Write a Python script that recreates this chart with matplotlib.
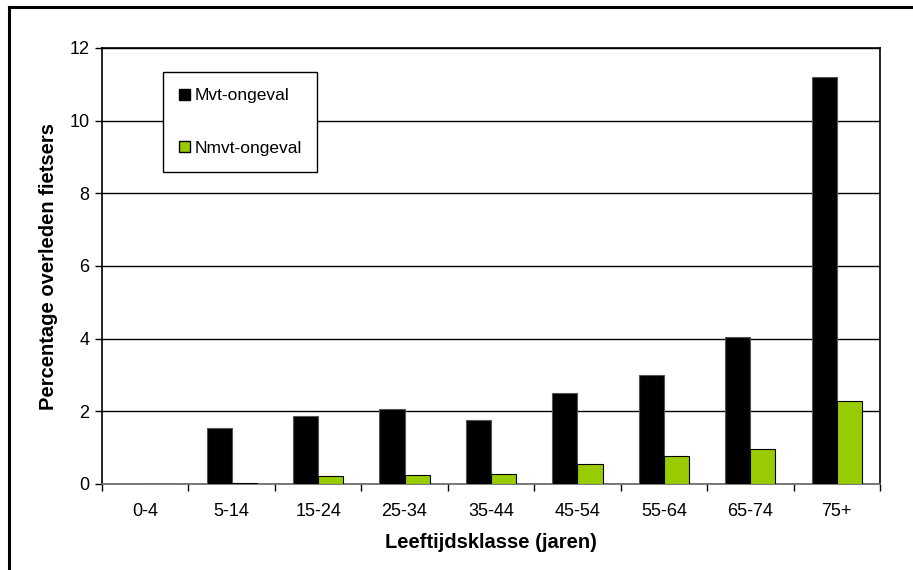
import matplotlib
matplotlib.use("Agg")
import matplotlib.pyplot as plt
import numpy as np
from matplotlib.lines import Line2D
from matplotlib.patches import Patch

plt.rcParams['font.family'] = ['Liberation Sans', 'DejaVu Sans']

categories = ["0-4", "5-14", "15-24", "25-34", "35-44", "45-54", "55-64", "65-74", "75+"]
mvt = [0.0, 1.55, 1.87, 2.07, 1.75, 2.50, 2.99, 4.04, 11.2]
nmvt = [0.0, 0.02, 0.23, 0.24, 0.27, 0.54, 0.76, 0.95, 2.28]
series_names = ["Mvt-ongeval", "Nmvt-ongeval"]
yticks = [0, 2, 4, 6, 8, 10, 12]

fig = plt.figure(figsize=(9.13, 5.70), dpi=100)
ax = fig.add_axes([102/913, 1 - 484/570, 778/913, 436/570])

x = np.arange(len(categories))
w = 0.29
ax.bar(x - w/2, mvt, width=w, color="black", edgecolor="#555555", linewidth=0.8, zorder=3)
ax.bar(x + w/2, nmvt, width=w, color="#99CC00", edgecolor="black", linewidth=0.8, zorder=3)

ax.set_xlim(-0.5, len(categories) - 0.5)
ax.set_ylim(0, 12)
ax.set_yticks(yticks)
ax.set_yticklabels([str(v) for v in yticks], fontsize=13)
ax.yaxis.grid(True, color="black", linewidth=1.0, zorder=0)
ax.set_axisbelow(True)

# category labels centred, tick marks on the category boundaries
ax.set_xticks(x)
ax.set_xticklabels(categories, fontsize=13)
ax.tick_params(axis="x", which="major", length=0, pad=14)
ax.set_xticks(np.arange(-0.5, len(categories)), minor=True)
ax.tick_params(axis="x", which="minor", length=5, width=1, direction="out")
ax.tick_params(axis="y", length=5, width=1, direction="out", pad=4)

for s in ax.spines.values():
    s.set_linewidth(1.2)
    s.set_color("black")
ax.spines["bottom"].set_color("#666666")

ax.set_ylabel("Percentage overleden fietsers", fontsize=14.5, fontweight="bold", labelpad=8)
ax.set_xlabel("Leeftijdsklasse (jaren)", fontsize=14.5, fontweight="bold", labelpad=9)

handles = [Patch(facecolor="black", edgecolor="black"),
           Patch(facecolor="#99CC00", edgecolor="black")]
leg = ax.legend(handles, series_names, loc="upper left",
                bbox_to_anchor=(0.078, 0.72, 0.198, 0.225), mode="expand",
                fontsize=12.5, frameon=True, fancybox=False, framealpha=1,
                edgecolor="black", labelspacing=2.15, handlelength=0.65, handleheight=0.65,
                handletextpad=0.25, borderpad=0.95, borderaxespad=0)
leg.get_frame().set_linewidth(1.0)
leg.set_zorder(5)

# outer frame lines along the top and left edges
fig.add_artist(Line2D([8.5/913, 1], [1 - 7/570, 1 - 7/570], color="black", linewidth=2.2))
fig.add_artist(Line2D([8.5/913, 8.5/913], [0, 1 - 7/570], color="black", linewidth=2.2))

fig.savefig("out.png", dpi=100)
